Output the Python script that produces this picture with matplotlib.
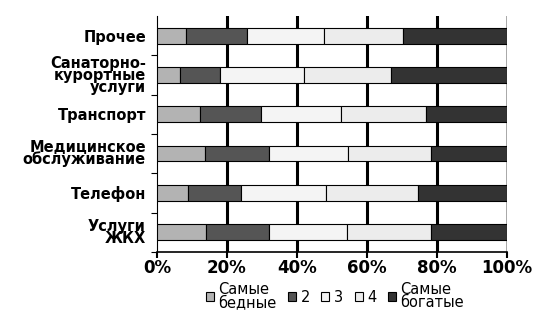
import numpy as np
import matplotlib.pyplot as plt

categories = ['Прочее', 'Санаторно-\nкурортные\nуслуги', 'Транспорт',
              'Медицинское\nобслуживание', 'Телефон', 'Услуги\nЖКХ']
groups = ['Самые\nбедные', '2', '3', '4', 'Самые\nбогатые']
colors = ['#b3b3b3', '#555555', '#f4f4f4', '#ececec', '#333333']

# shares, % (top to bottom)
poorest = [8.3, 6.7, 12.2, 13.6, 9.0, 13.9]
q2 = [17.3, 11.4, 17.6, 18.3, 14.9, 18.0]
q3 = [22.2, 23.9, 22.8, 22.7, 24.4, 22.4]
q4 = [22.6, 24.9, 24.4, 23.6, 26.3, 23.9]
richest = [29.6, 33.1, 23.0, 21.8, 25.4, 21.8]

data = np.array([poorest, q2, q3, q4, richest])
data = data / data.sum(axis=0) * 100

plt.rcParams['font.family'] = ['DejaVu Sans']
fig = plt.figure(figsize=(5.34, 3.16), dpi=100)
ax = fig.add_axes([0.294, 0.203, 0.655, 0.746])

n = len(categories)
y = np.arange(n)[::-1]
left = np.zeros(n)
for vals, lab, col in zip(data, groups, colors):
    ax.barh(y, vals, left=left, height=0.4, color=col, edgecolor='black',
            linewidth=0.8, label=lab, zorder=3)
    left += vals

for xv in [20, 40, 60, 80]:
    ax.axvline(xv, color='black', lw=2.2, zorder=1)
ax.axvline(100, color='#999999', lw=1.2, zorder=1)

ax.set_xlim(0, 100)
ax.set_ylim(-0.5, n - 0.5)
ax.set_xticks([0, 20, 40, 60, 80, 100])
ax.set_xticklabels(['0%', '20%', '40%', '60%', '80%', '100%'],
                   fontsize=12, fontweight='bold')
ax.set_yticks(y)
ax.set_yticklabels(categories, fontsize=10.5, fontweight='bold',
                   linespacing=0.75)
ax.set_yticks(np.arange(n) - 0.5, minor=True)
ax.tick_params(axis='y', which='major', length=0, pad=8)
ax.tick_params(axis='y', which='minor', length=4, width=0.8)
ax.tick_params(axis='x', length=4, width=1.5, pad=1)
for s in ['top', 'right']:
    ax.spines[s].set_visible(False)
ax.spines['left'].set_linewidth(0.8)
ax.spines['bottom'].set_linewidth(1.2)

fig.legend(loc='lower center', bbox_to_anchor=(0.627, -0.01), ncol=5,
           frameon=False, fontsize=10.5, handlelength=0.55, handleheight=0.55,
           handletextpad=0.3, columnspacing=0.8, labelspacing=0.1,
           borderpad=0.1)
for t in fig.legends[0].get_texts():
    t.set_linespacing(0.9)

fig.savefig('out.png', dpi=100)
